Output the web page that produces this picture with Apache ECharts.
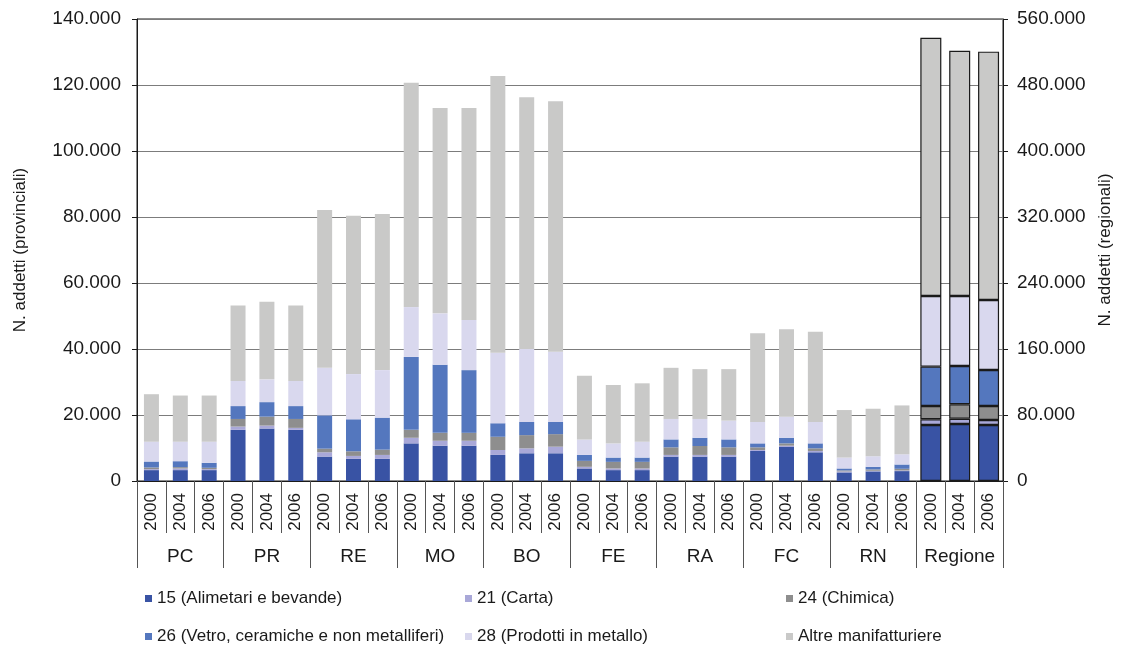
<!DOCTYPE html>
<html>
<head>
<meta charset="utf-8">
<script src="https://cdn.jsdelivr.net/npm/echarts@6/dist/echarts.min.js"></script>
<style>
  html, body { margin: 0; padding: 0; background: #ffffff; }
  #chart { width: 1122px; height: 648px; }
</style>
</head>
<body>
<div id="chart"></div>
<script>
// ---- Data ----
const groups = ['PC', 'PR', 'RE', 'MO', 'BO', 'FE', 'RA', 'FC', 'RN', 'Regione'];
const years = ['2000', '2004', '2006'];
const seriesNames = ['15 (Alimetari e bevande)', '21 (Carta)', '24 (Chimica)',
  '26 (Vetro, ceramiche e non metalliferi)', '28 (Prodotti in metallo)', 'Altre manifatturiere'];

// provincial values (PC..RN, years 2000/2004/2006)
const prov15 = [3300, 3300, 3300, 15500, 15900, 15500, 7400, 6700, 6700, 11400, 10700, 10700, 7900, 8400, 8400, 3800, 3300, 3300, 7400, 7400, 7400, 9100, 10300, 8700, 2600, 2900, 3000];
const prov21 = [300, 500, 300, 1000, 900, 600, 1300, 900, 1200, 1700, 1500, 1500, 1500, 1500, 2000, 500, 500, 500, 500, 500, 500, 300, 400, 400, 300, 200, 200];
const prov24 = [500, 400, 400, 2300, 2700, 2700, 1100, 1400, 1600, 2400, 2400, 2400, 4000, 4000, 3800, 1800, 2000, 2000, 2300, 2700, 2300, 800, 700, 800, 300, 400, 500];
const prov26 = [1800, 1800, 1500, 3900, 4400, 3900, 10100, 9700, 9700, 22100, 20600, 19000, 4100, 4000, 3700, 1800, 1300, 1300, 2400, 2500, 2400, 1200, 1700, 1500, 600, 800, 1300];
const prov28 = [6000, 5900, 6400, 7600, 6900, 7600, 14400, 13700, 14400, 15100, 15600, 15200, 21400, 22100, 21300, 4700, 4300, 4800, 6200, 5700, 5700, 6500, 6400, 6500, 3300, 3200, 3100];
const provAltre = [14400, 14000, 14000, 22900, 23500, 22900, 47800, 48000, 47300, 68000, 62200, 64200, 83800, 76300, 75900, 19300, 17700, 17700, 15500, 15100, 15600, 26900, 26500, 27300, 14400, 14400, 14800];

// regional values (2000/2004/2006)
const reg15 = [67900, 69100, 67900];
const reg21 = [6900, 6400, 6000];
const reg24 = [16100, 17500, 17000];
const reg26 = [47700, 46400, 43600];
const reg28 = [85600, 84800, 84900];
const regAltre = [313100, 297400, 301000];

const leftTicks = [0, 20000, 40000, 60000, 80000, 100000, 120000, 140000];
const rightTicks = [0, 80000, 160000, 240000, 320000, 400000, 480000, 560000];

// ---- Build ----
const colors = ['#3953a4', '#a9a8d8', '#8e8e8e', '#5477be', '#d9d8ee', '#c9c9c8'];
const provSets = [prov15, prov21, prov24, prov26, prov28, provAltre];
const regSets = [reg15, reg21, reg24, reg26, reg28, regAltre];

const cats = [];
groups.forEach(g => years.forEach(y => cats.push(g + '|' + y)));
const nProv = (groups.length - 1) * years.length;

const FONT = 'Liberation Sans, Arial, sans-serif';
const TXT = '#1a1a1a';
const fmt = v => String(Math.round(v)).replace(/\B(?=(\d{3})+(?!\d))/g, '.');

const series = [];
provSets.forEach((arr, i) => {
  const data = cats.map((c, k) => (k < nProv ? arr[k] : '-'));
  series.push({
    name: seriesNames[i], type: 'bar', stack: 'prov', xAxisIndex: 0, yAxisIndex: 0,
    barWidth: 15, data: data, itemStyle: { color: colors[i] }, emphasis: { disabled: true }
  });
});
regSets.forEach((arr, i) => {
  const data = cats.map((c, k) => (k < nProv ? '-' : arr[k - nProv]));
  series.push({
    name: seriesNames[i], type: 'bar', stack: 'reg', xAxisIndex: 1, yAxisIndex: 1,
    barWidth: 21, data: data,
    itemStyle: { color: colors[i], borderColor: '#1a1a1a', borderWidth: 1.2 },
    emphasis: { disabled: true }
  });
});

const legendPos = [
  { left: 145, top: 590 }, { left: 465, top: 590 }, { left: 786, top: 590 },
  { left: 145, top: 628 }, { left: 465, top: 628 }, { left: 786, top: 628 }
];
const legends = seriesNames.map((n, i) => ({
  data: [n], left: legendPos[i].left, top: legendPos[i].top, padding: 0,
  icon: 'rect', itemWidth: 7, itemHeight: 7, itemGap: 6,
  textStyle: { fontFamily: FONT, fontSize: 17, color: TXT }, selectedMode: false
}));

const option = {
  animation: false,
  backgroundColor: '#ffffff',
  color: colors,
  legend: legends,
  grid: {
    left: 137, right: 119, top: 19, bottom: 167, show: true,
    borderColor: '#1a1a1a', borderWidth: 1, backgroundColor: 'transparent'
  },
  xAxis: [
    {
      type: 'category', data: cats, position: 'bottom', gridIndex: 0,
      axisLine: { show: true, lineStyle: { color: '#1a1a1a', width: 1 } },
      axisTick: { show: true, interval: 0, length: 52, lineStyle: { color: '#555', width: 1 } },
      axisLabel: {
        interval: 0, rotate: 90, margin: 12, formatter: v => v.split('|')[1],
        fontFamily: FONT, fontSize: 17, color: TXT
      },
      splitLine: { show: false }
    },
    {
      type: 'category', data: cats, position: 'bottom', gridIndex: 0, show: false
    },
    {
      type: 'category', data: groups, position: 'bottom', gridIndex: 0,
      axisLine: { show: false },
      axisTick: { show: true, interval: 0, length: 87, lineStyle: { color: '#555', width: 1 } },
      axisLabel: { interval: 0, margin: 66, fontFamily: FONT, fontSize: 19, color: TXT },
      splitLine: { show: false }
    }
  ],
  yAxis: [
    {
      type: 'value', position: 'left', min: leftTicks[0], max: leftTicks[leftTicks.length - 1],
      interval: leftTicks[1] - leftTicks[0],
      name: 'N. addetti (provinciali)', nameLocation: 'middle', nameRotate: 90, nameGap: 108,
      nameTextStyle: { fontFamily: FONT, fontSize: 17, color: TXT },
      axisLine: { show: true, lineStyle: { color: '#1a1a1a', width: 1 } },
      axisTick: { show: true, length: 5, lineStyle: { color: '#1a1a1a' } },
      axisLabel: { formatter: fmt, margin: 16, fontFamily: FONT, fontSize: 19, color: TXT },
      splitLine: { show: true, lineStyle: { color: '#7c7c7c', width: 1 } }
    },
    {
      type: 'value', position: 'right', min: rightTicks[0], max: rightTicks[rightTicks.length - 1],
      interval: rightTicks[1] - rightTicks[0],
      name: 'N. addetti (regionali)', nameLocation: 'middle', nameRotate: 90, nameGap: 92,
      nameTextStyle: { fontFamily: FONT, fontSize: 17, color: TXT },
      axisLine: { show: true, lineStyle: { color: '#1a1a1a', width: 1 } },
      axisTick: { show: true, length: 5, lineStyle: { color: '#1a1a1a' } },
      axisLabel: { formatter: fmt, margin: 14, fontFamily: FONT, fontSize: 19, color: TXT },
      splitLine: { show: false }
    }
  ],
  series: series
};

const chart = echarts.init(document.getElementById('chart'), null, { renderer: 'canvas' });
chart.setOption(option);
</script>
</body>
</html>
